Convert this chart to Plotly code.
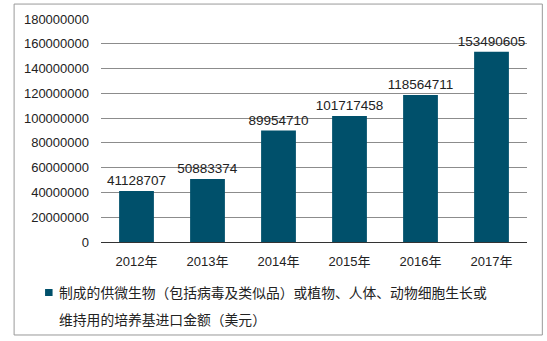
import plotly.graph_objects as go

years = ["2012年", "2013年", "2014年", "2015年", "2016年", "2017年"]
values = [41128707, 50883374, 89954710, 101717458, 118564711, 153490605]
legend_line1 = "制成的供微生物（包括病毒及类似品）或植物、人体、动物细胞生长或"
legend_line2 = "维持用的培养基进口金额（美元）"
y_ticks = [0, 20000000, 40000000, 60000000, 80000000, 100000000, 120000000, 140000000, 160000000, 180000000]

FONT = "Liberation Sans, Arial, Noto Sans CJK SC, sans-serif"
BAR = "#00506B"
TXT = "#222222"

fig = go.Figure()
fig.add_trace(go.Bar(
    x=years, y=values, name=legend_line1 + legend_line2,
    marker=dict(color=BAR, line=dict(width=0)),
    text=[str(v) for v in values], textposition="outside",
    textfont=dict(size=13.5, color=TXT, family=FONT),
    constraintext="none", cliponaxis=False, width=0.49,
    showlegend=False,
))

fig.update_layout(
    width=547, height=341,
    margin=dict(l=101, r=19.5, t=19, b=99),
    paper_bgcolor="white", plot_bgcolor="white",
    font=dict(family=FONT, size=13, color=TXT),
    showlegend=False,
    xaxis=dict(showgrid=False, showline=True, linecolor="#333333", linewidth=1,
               ticks="", tickfont=dict(size=13), ticklabelstandoff=7),
    yaxis=dict(range=[0, 180000000], tickvals=y_ticks, ticktext=[str(v) for v in y_ticks],
               showgrid=True, gridcolor="#8c8c8c", gridwidth=1, zeroline=False,
               showline=False, ticks="", ticklabelstandoff=11, tickfont=dict(size=13)),
    shapes=[
        dict(type="rect", xref="paper", yref="paper",
             x0=-0.204, x1=1.036, y0=-0.417, y1=1.067,
             line=dict(color="#999999", width=1), fillcolor="rgba(0,0,0,0)"),
        dict(type="rect", xref="paper", yref="paper",
             x0=-0.1313, x1=-0.1137, y0=-0.2422, y1=-0.2108,
             line=dict(width=0), fillcolor=BAR),
    ],
    annotations=[
        dict(text=legend_line1, xref="paper", yref="paper", x=-0.103, y=-0.2287,
             xanchor="left", yanchor="middle", showarrow=False,
             font=dict(size=13.8, color=TXT, family=FONT)),
        dict(text=legend_line2, xref="paper", yref="paper", x=-0.103, y=-0.3498,
             xanchor="left", yanchor="middle", showarrow=False,
             font=dict(size=13.8, color=TXT, family=FONT)),
    ],
)

fig.write_html("out.html")
